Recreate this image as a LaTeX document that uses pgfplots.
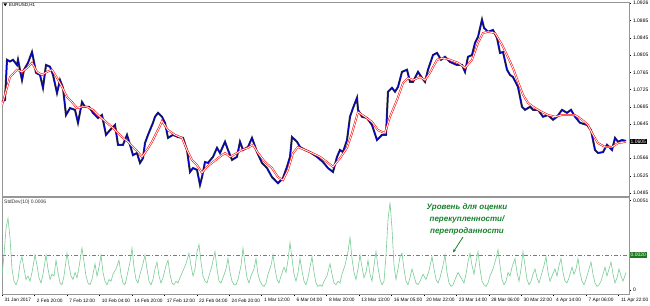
\documentclass[border=0pt]{standalone}
\usepackage{pgfplots}
\pgfplotsset{compat=1.18}
\usepackage{pgfplotstable}
\usetikzlibrary{arrows.meta}
\usepackage{fontspec}
\setmainfont{Liberation Sans}
\definecolor{stdgreen}{RGB}{120,205,150}
\definecolor{lvlgreen}{RGB}{70,160,70}
\definecolor{anngreen}{RGB}{25,130,45}
\definecolor{boxgreen}{RGB}{30,120,30}
\definecolor{framegray}{RGB}{150,150,150}
\definecolor{priceblue}{RGB}{0,0,210}

\pgfplotstableread{
x y
2 1.0697
5 1.0701
7 1.0794
10 1.0790
13 1.0794
17 1.0782
18 1.0794
22 1.0747
24 1.0771
28 1.0787
32 1.0812
33 1.0801
36 1.0764
40 1.0759
43 1.0729
46 1.0782
50 1.0778
53 1.0759
57 1.0717
60 1.0747
63 1.0729
66 1.0666
70 1.0682
75 1.0678
78 1.0648
82 1.0696
85 1.0685
89 1.0685
93 1.0671
98 1.0659
102 1.0666
106 1.0620
110 1.0631
115 1.0643
118 1.0597
123 1.0597
127 1.0620
130 1.0597
133 1.0573
137 1.0578
140 1.0555
143 1.0566
145 1.0601
148 1.0620
153 1.0648
155 1.0662
158 1.0671
162 1.0662
165 1.0648
168 1.0613
173 1.0620
178 1.0615
183 1.0613
187 1.0585
190 1.0534
193 1.0543
197 1.0539
200 1.0504
202 1.0522
205 1.0557
208 1.0555
213 1.0569
217 1.0590
220 1.0578
225 1.0604
228 1.0585
232 1.0562
237 1.0569
240 1.0604
243 1.0585
248 1.0592
252 1.0613
257 1.0580
262 1.0555
267 1.0543
272 1.0522
275 1.0515
278 1.0508
283 1.0520
287 1.0546
290 1.0569
292 1.0615
297 1.0604
300 1.0592
305 1.0585
310 1.0580
317 1.0569
323 1.0557
328 1.0543
333 1.0534
337 1.0569
340 1.0585
343 1.0580
347 1.0608
350 1.0662
353 1.0682
357 1.0706
358 1.0678
362 1.0662
367 1.0659
372 1.0643
377 1.0608
382 1.0620
386 1.0620
388 1.0720
392 1.0729
395 1.0720
398 1.0731
402 1.0766
407 1.0771
410 1.0743
413 1.0743
418 1.0766
422 1.0752
425 1.0743
428 1.0771
433 1.0805
437 1.0810
441 1.0794
445 1.0801
450 1.0789
457 1.0782
462 1.0782
465 1.0766
468 1.0801
472 1.0805
475 1.0833
478 1.0847
482 1.0887
484 1.0868
488 1.0859
493 1.0863
497 1.0845
500 1.0810
503 1.0812
507 1.0771
510 1.0759
513 1.0754
518 1.0731
522 1.0685
525 1.0678
530 1.0685
533 1.0678
538 1.0678
543 1.0662
548 1.0666
553 1.0655
557 1.0662
562 1.0678
567 1.0671
571 1.0678
575 1.0662
580 1.0648
587 1.0643
591 1.0631
595 1.0585
598 1.0578
603 1.0580
607 1.0597
612 1.0585
615 1.0613
618 1.0604
622 1.0608
626 1.0606
}\price

\pgfplotstableread{
x y
2 1.0689
10 1.0754
17 1.0771
22 1.0766
27 1.0775
32 1.0787
37 1.0766
42 1.0759
47 1.0766
52 1.0771
57 1.0752
62 1.0731
67 1.0708
72 1.0696
77 1.0682
82 1.0685
87 1.0685
93 1.0678
100 1.0662
107 1.0648
113 1.0636
118 1.0624
123 1.0613
128 1.0604
133 1.0592
138 1.0580
142 1.0569
147 1.0585
152 1.0604
157 1.0627
160 1.0641
162 1.0652
168 1.0631
175 1.0620
182 1.0613
187 1.0585
192 1.0562
197 1.0550
202 1.0532
207 1.0546
212 1.0555
218 1.0566
225 1.0578
230 1.0569
237 1.0578
242 1.0585
248 1.0590
253 1.0597
258 1.0578
265 1.0557
272 1.0543
278 1.0522
283 1.0515
288 1.0539
293 1.0578
298 1.0592
305 1.0585
312 1.0578
320 1.0569
327 1.0557
333 1.0546
340 1.0566
347 1.0590
352 1.0624
358 1.0673
365 1.0662
372 1.0650
378 1.0631
385 1.0624
390 1.0662
397 1.0701
403 1.0740
408 1.0752
413 1.0747
420 1.0754
425 1.0747
430 1.0764
437 1.0794
443 1.0798
450 1.0794
458 1.0787
465 1.0775
472 1.0794
478 1.0833
483 1.0856
488 1.0859
495 1.0856
502 1.0829
507 1.0805
513 1.0775
518 1.0743
523 1.0713
528 1.0694
535 1.0682
542 1.0673
548 1.0666
555 1.0662
562 1.0666
568 1.0666
575 1.0666
582 1.0655
588 1.0643
593 1.0620
598 1.0601
605 1.0592
612 1.0592
618 1.0601
626 1.0604
}\ma

\pgfplotstableread{
x y
2 0.0008
4 0.0020
6 0.0035
8 0.0041
10 0.0030
12 0.0012
14 0.0005
16 0.0003
18 0.0006
20 0.0015
22 0.0019
24 0.0012
26 0.0006
28 0.0008
30 0.0005
32 0.0010
35 0.0020
37 0.0014
39 0.0007
41 0.0004
43 0.0009
46 0.0020
48 0.0012
50 0.0006
52 0.0009
54 0.0008
56 0.0017
58 0.0010
60 0.0004
62 0.0003
64 0.0008
67 0.0021
69 0.0014
71 0.0008
73 0.0006
75 0.0010
77 0.0007
79 0.0013
82 0.0024
84 0.0016
86 0.0008
88 0.0004
90 0.0003
92 0.0006
95 0.0015
97 0.0008
99 0.0013
101 0.0020
103 0.0010
105 0.0005
107 0.0003
109 0.0006
111 0.0005
113 0.0009
116 0.0012
119 0.0017
121 0.0009
123 0.0004
125 0.0003
127 0.0008
130 0.0016
132 0.0024
134 0.0013
136 0.0006
138 0.0004
140 0.0009
143 0.0015
145 0.0020
147 0.0012
149 0.0005
151 0.0003
153 0.0006
155 0.0012
157 0.0016
159 0.0008
161 0.0004
163 0.0007
166 0.0014
168 0.0017
170 0.0009
172 0.0004
174 0.0003
176 0.0005
178 0.0004
180 0.0007
183 0.0011
186 0.0015
189 0.0021
191 0.0014
193 0.0008
195 0.0012
197 0.0022
199 0.0026
201 0.0016
203 0.0008
205 0.0005
207 0.0004
209 0.0008
212 0.0014
215 0.0022
217 0.0012
219 0.0005
221 0.0004
223 0.0007
226 0.0012
228 0.0018
230 0.0010
232 0.0005
234 0.0003
236 0.0003
238 0.0006
241 0.0014
243 0.0024
245 0.0015
247 0.0007
249 0.0004
251 0.0008
254 0.0012
256 0.0018
258 0.0009
260 0.0005
262 0.0003
264 0.0002
266 0.0004
268 0.0009
271 0.0014
273 0.0020
275 0.0012
277 0.0006
279 0.0004
281 0.0008
284 0.0013
286 0.0010
288 0.0017
290 0.0027
292 0.0018
294 0.0009
296 0.0005
298 0.0010
300 0.0018
302 0.0011
304 0.0005
306 0.0003
308 0.0007
310 0.0013
312 0.0019
314 0.0010
316 0.0004
318 0.0002
320 0.0003
322 0.0002
324 0.0005
327 0.0008
330 0.0015
332 0.0009
334 0.0004
336 0.0003
338 0.0005
340 0.0004
342 0.0009
345 0.0014
348 0.0022
350 0.0030
352 0.0018
354 0.0010
356 0.0006
358 0.0012
360 0.0020
362 0.0013
364 0.0007
366 0.0010
368 0.0017
370 0.0009
372 0.0005
374 0.0014
376 0.0022
378 0.0013
380 0.0006
382 0.0003
384 0.0005
386 0.0020
388 0.0040
390 0.0050
392 0.0035
394 0.0014
396 0.0006
398 0.0012
400 0.0019
402 0.0021
404 0.0012
406 0.0005
408 0.0003
410 0.0007
412 0.0012
414 0.0008
416 0.0004
418 0.0003
420 0.0005
423 0.0009
426 0.0006
429 0.0011
432 0.0019
434 0.0012
436 0.0006
438 0.0004
440 0.0007
443 0.0014
445 0.0020
447 0.0010
449 0.0004
451 0.0002
453 0.0003
455 0.0006
458 0.0010
461 0.0007
464 0.0004
466 0.0009
468 0.0016
470 0.0021
472 0.0014
474 0.0009
476 0.0016
478 0.0022
480 0.0012
482 0.0005
484 0.0003
486 0.0002
488 0.0004
490 0.0008
493 0.0012
496 0.0018
498 0.0023
500 0.0014
502 0.0006
504 0.0003
506 0.0005
508 0.0010
510 0.0008
512 0.0013
515 0.0018
517 0.0010
519 0.0005
521 0.0012
523 0.0022
525 0.0014
527 0.0006
529 0.0003
531 0.0005
533 0.0009
535 0.0012
537 0.0007
539 0.0004
541 0.0008
544 0.0014
546 0.0019
548 0.0010
550 0.0005
552 0.0008
555 0.0012
557 0.0008
559 0.0014
561 0.0018
563 0.0010
565 0.0005
567 0.0004
569 0.0007
572 0.0013
574 0.0009
576 0.0012
578 0.0018
580 0.0010
582 0.0005
584 0.0003
586 0.0006
589 0.0012
591 0.0016
593 0.0009
595 0.0004
597 0.0002
599 0.0003
601 0.0005
603 0.0009
605 0.0013
607 0.0008
609 0.0012
611 0.0016
613 0.0009
615 0.0004
617 0.0007
619 0.0012
621 0.0008
623 0.0005
626 0.0010
}\stddev

\begin{document}
\begin{tikzpicture}[x=1pt,y=1pt]
\useasboundingbox[fill=white] (0,0) rectangle (650,305);
% ---------- price panel ----------
\begin{axis}[
  at={(2pt,109pt)}, anchor=south west, scale only axis,
  width=627pt, height=194pt,
  xmin=2, xmax=629, ymin=1.04783, ymax=1.0928,
  xtick=\empty,
  ytick={1.0926,1.0885,1.0845,1.0805,1.0765,1.0725,1.0685,1.0645,1.0566,1.0525,1.0485},
  yticklabels={1.0926,1.0885,1.0845,1.0805,1.0765,1.0725,1.0685,1.0645,1.0566,1.0525,1.0485},
  scaled y ticks=false,
  ytick pos=right, yticklabel pos=right, tick align=outside, major tick length=2pt,
  yticklabel style={font=\fontsize{5}{5}\selectfont, anchor=west, xshift=-1.5pt},
  axis line style={framegray, line width=0.9pt},
  tick style={black, line width=0.4pt},
]
\addplot[black, line width=2.0pt, opacity=0.8] table[x=x,y=y]{\price};
\addplot[priceblue, line width=1.0pt] table[x=x,y=y]{\price};
\addplot[red, line width=0.55pt, double=white, double distance=0.8pt] table[x=x,y=y]{\ma};
\coordinate (hlp) at (axis cs:629,1.0605);
\end{axis}
% ---------- StdDev panel ----------
\begin{axis}[
  at={(2pt,11pt)}, anchor=south west, scale only axis,
  width=627pt, height=97pt,
  xmin=2, xmax=629, ymin=-0.000229, ymax=0.00531,
  xtick={2,34.45,66.9,99.35,131.8,164.25,196.7,229.15,261.6,294.05,326.5,358.95,391.4,423.85,456.3,488.75,521.2,553.65,586.1,618.55},
  xticklabels={31 Jan 2017,2 Feb 20:00,7 Feb 12:00,10 Feb 04:00,14 Feb 20:00,17 Feb 12:00,22 Feb 04:00,24 Feb 20:00,1 Mar 12:00,6 Mar 04:00,8 Mar 20:00,13 Mar 13:00,16 Mar 05:00,20 Mar 22:00,23 Mar 14:00,28 Mar 06:00,30 Mar 22:00,4 Apr 14:00,7 Apr 06:00,11 Apr 22:00},
  xticklabel style={font=\fontsize{4.8}{5}\selectfont, anchor=north west, xshift=-1pt, yshift=1pt},
  ytick={0,0.0051}, yticklabels={0,0.0051},
  scaled y ticks=false,
  xtick pos=bottom, ytick pos=right, yticklabel pos=right,
  tick align=outside, major tick length=2pt,
  yticklabel style={font=\fontsize{5}{5}\selectfont, anchor=west, xshift=-1.5pt},
  axis line style={framegray, line width=0.9pt},
  tick style={black, line width=0.4pt},
]
\addplot[lvlgreen, line width=0.6pt, dash pattern=on 4pt off 2pt on 1pt off 2pt] coordinates {(2,0.0020) (629,0.0020)};
\addplot[stdgreen, line width=0.6pt] table[x=x,y=y]{\stddev};
\coordinate (hls) at (axis cs:629,0.0020);
\end{axis}
% highlighted current values
\node[fill=black, text=white, font=\fontsize{5}{5}\selectfont, inner sep=1pt, anchor=west] at ([xshift=0.5pt]hlp) {1.0605};
\node[fill=boxgreen, text=white, font=\fontsize{5}{5}\selectfont, inner sep=1pt, anchor=west] at ([xshift=0.5pt]hls) {0.0020};
% panel titles
\node[font=\fontsize{4.5}{5}\selectfont, anchor=west, inner sep=0pt] at (9,300) {EURUSD,H1};
\fill[black] (3.5,301.5) -- (7,301.5) -- (5.25,298.8) -- cycle;
\node[font=\fontsize{5}{5}\selectfont, anchor=west, inner sep=0pt, text=black!80] at (4,103) {StdDev(10) 0.0006};
% annotation
\node[font=\fontsize{8}{12}\selectfont\bfseries\itshape, text=anngreen, align=center, anchor=north] at (467,105) {Уровень для оценки\\перекупленности/\\перепроданности};
\draw[anngreen, line width=0.8pt, -{Stealth[length=3.5pt,width=3pt]}] (463,68) -- (453,52.5);
\end{tikzpicture}
\end{document}
